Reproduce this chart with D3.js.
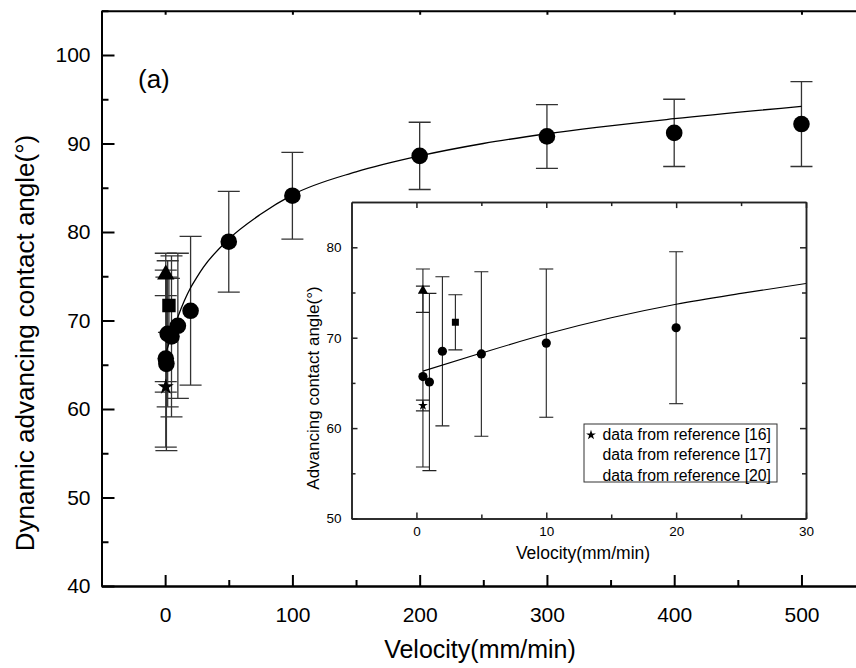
<!DOCTYPE html>
<html><head><meta charset="utf-8">
<script src="https://cdn.jsdelivr.net/npm/d3@7/dist/d3.min.js"></script>
<style>
body{margin:0;background:#fff}
svg{display:block}
text{font-family:Arial,"Liberation Sans",Helvetica,sans-serif;fill:#000}
</style>
</head><body>
<svg id="chart" width="856" height="668"></svg>
<script>
// ---- data ----
const circleVel = [0.5, 1, 2, 5, 10, 20, 50, 100, 200, 300, 400, 500];
const circleAngle = [65.7, 65.1, 68.5, 68.2, 69.4, 71.1, 78.9, 84.1, 88.6, 90.8, 91.2, 92.2];
const circleErr = [10.0, 9.8, 8.25, 9.1, 8.2, 8.4, 5.7, 4.9, 3.8, 3.6, 3.8, 4.8];

const ref16Vel = [0.5], ref16Angle = [62.5], ref16Err = [0.6];   // star
const ref17Vel = [0.5], ref17Angle = [75.2], ref17Err = [2.4];   // triangle
const ref20Vel = [3],   ref20Angle = [71.7], ref20Err = [3.05];  // square

const fitVel = [0.5, 5, 10, 15, 20, 25, 30, 50, 75, 100, 150, 200, 250, 300, 400, 500];
const fitAngle = [66.3, 68.3, 70.4, 72.2, 73.7, 74.9, 76.0, 79.2, 82.0, 84.2, 86.8, 88.6, 90.0, 91.1, 92.8, 94.2];

const mainXTicks = [0, 100, 200, 300, 400, 500];
const mainXMinor = [50, 150, 250, 350, 450, 550];
const mainYTicks = [40, 50, 60, 70, 80, 90, 100];
const mainYMinor = [45, 55, 65, 75, 85, 95, 105];
const insetXTicks = [0, 10, 20, 30];
const insetXMinor = [5, 15, 25];
const insetYTicks = [50, 60, 70, 80];
const insetYMinor = [55, 65, 75];

const legendLabels = ["data from reference [16]", "data from reference [17]", "data from reference [20]"];

// ---- chart ----
const svg = d3.select("#chart");
svg.append("rect").attr("width", 856).attr("height", 668).attr("fill", "#fff");

const xM = d3.scaleLinear().domain([-50, 550]).range([101.5, 865.1]);
const yM = d3.scaleLinear().domain([40, 105]).range([586, 10.75]);

const xI = d3.scaleLinear().domain([-5, 30]).range([351.5, 806]);
const yI = d3.scaleLinear().domain([50, 85]).range([518.5, 202.1]);

function records(v, a, e) { return v.map((d, i) => ({v: d, a: a[i], e: e[i]})); }
const circles = records(circleVel, circleAngle, circleErr);
const stars = records(ref16Vel, ref16Angle, ref16Err);
const tris = records(ref17Vel, ref17Angle, ref17Err);
const squares = records(ref20Vel, ref20Angle, ref20Err);
const fit = fitVel.map((d, i) => ({v: d, a: fitAngle[i]}));

// clip paths
const defs = svg.append("defs");
defs.append("clipPath").attr("id", "clipMain").append("rect")
  .attr("x", 101.5).attr("y", 10.75).attr("width", 860).attr("height", 575.25);
defs.append("clipPath").attr("id", "clipInset").append("rect")
  .attr("x", xI(-5)).attr("y", yI(85)).attr("width", xI(30) - xI(-5)).attr("height", yI(50) - yI(85));

function errorBars(g, data, x, y, cap, color, sw) {
  const eb = g.append("g").attr("stroke", color).attr("stroke-width", sw).attr("fill", "none");
  data.forEach(d => {
    const cx = x(d.v), y1 = y(d.a + d.e), y2 = y(d.a - d.e);
    eb.append("line").attr("x1", cx).attr("x2", cx).attr("y1", y1).attr("y2", y2);
    eb.append("line").attr("x1", cx - cap).attr("x2", cx + cap).attr("y1", y1).attr("y2", y1);
    eb.append("line").attr("x1", cx - cap).attr("x2", cx + cap).attr("y1", y2).attr("y2", y2);
  });
}

// ===== MAIN PLOT =====
const gMain = svg.append("g").attr("clip-path", "url(#clipMain)");
const allErr = circles.concat(tris, squares, stars);
errorBars(gMain, allErr, xM, yM, 11, "#333", 1.3);

gMain.append("path").datum(fit)
  .attr("fill", "none").attr("stroke", "#000").attr("stroke-width", 1.3)
  .attr("d", d3.line().x(d => xM(d.v)).y(d => yM(d.a)).curve(d3.curveMonotoneX));

gMain.selectAll("circle.m").data(circles).join("circle")
  .attr("cx", d => xM(d.v)).attr("cy", d => yM(d.a)).attr("r", 8.3).attr("fill", "#000");
gMain.selectAll("path.tri").data(tris).join("path")
  .attr("transform", d => `translate(${xM(d.v)},${yM(d.a)})`)
  .attr("d", d3.symbol(d3.symbolTriangle, 130)).attr("fill", "#000");
gMain.selectAll("path.sq").data(squares).join("path")
  .attr("transform", d => `translate(${xM(d.v)},${yM(d.a)})`)
  .attr("d", d3.symbol(d3.symbolSquare, 180)).attr("fill", "#000");
gMain.selectAll("path.st").data(stars).join("path")
  .attr("transform", d => `translate(${xM(d.v)},${yM(d.a)})`)
  .attr("d", d3.symbol(d3.symbolStar, 80)).attr("fill", "#000");

// main axes
const axMainLeft = svg.append("g").attr("transform", `translate(${xM(-50)},0)`)
  .call(d3.axisLeft(yM).tickValues(mainYTicks).tickSize(-13).tickSizeOuter(0).tickPadding(11).tickFormat(d3.format("d")));
svg.append("g").attr("transform", `translate(${xM(-50)},0)`)
  .call(d3.axisLeft(yM).tickValues(mainYMinor).tickSize(-7).tickSizeOuter(0).tickFormat(""));
const axMainBottom = svg.append("g").attr("transform", `translate(0,${yM(40)})`)
  .call(d3.axisBottom(xM).tickValues(mainXTicks).tickSize(-11).tickSizeOuter(0).tickPadding(21).tickFormat(d3.format("d")));
svg.append("g").attr("transform", `translate(0,${yM(40)})`)
  .call(d3.axisBottom(xM).tickValues(mainXMinor).tickSize(-6).tickSizeOuter(0).tickFormat(""));
svg.append("g").attr("transform", `translate(0,${yM(105)})`)
  .call(d3.axisTop(xM).tickValues(mainXTicks).tickSize(-4).tickSizeOuter(0).tickFormat(""));

axMainLeft.selectAll("text").attr("font-size", 21);
axMainBottom.selectAll("text").attr("font-size", 21);
svg.selectAll(".domain, .tick line").attr("stroke", "#000").attr("stroke-width", 2);

// main labels
svg.append("text").attr("x", 138).attr("y", 88).attr("font-size", 26).text("(a)");
svg.append("text").attr("x", 480).attr("y", 658).attr("text-anchor", "middle").attr("font-size", 25).text("Velocity(mm/min)");
svg.append("text").attr("transform", "translate(34,343) rotate(-90)").attr("text-anchor", "middle")
  .attr("font-size", 26).text("Dynamic advancing contact angle(°)");

// ===== INSET =====
svg.append("rect").attr("x", xI(-5)).attr("y", yI(85)).attr("width", xI(30) - xI(-5)).attr("height", yI(50) - yI(85))
  .attr("fill", "#fff");

const gIn = svg.append("g").attr("clip-path", "url(#clipInset)");
errorBars(gIn, allErr, xI, yI, 7, "#222", 1.1);
gIn.append("path").datum(fit.filter(d => d.v <= 50))
  .attr("fill", "none").attr("stroke", "#000").attr("stroke-width", 1.1)
  .attr("d", d3.line().x(d => xI(d.v)).y(d => yI(d.a)).curve(d3.curveMonotoneX));
gIn.selectAll("circle.i").data(circles).join("circle")
  .attr("cx", d => xI(d.v)).attr("cy", d => yI(d.a)).attr("r", 4.6).attr("fill", "#000");
gIn.selectAll("path.tri").data(tris).join("path")
  .attr("transform", d => `translate(${xI(d.v)},${yI(d.a)})`)
  .attr("d", d3.symbol(d3.symbolTriangle, 45)).attr("fill", "#000");
gIn.selectAll("path.sq").data(squares).join("path")
  .attr("transform", d => `translate(${xI(d.v)},${yI(d.a)})`)
  .attr("d", d3.symbol(d3.symbolSquare, 49)).attr("fill", "#000");
gIn.selectAll("path.st").data(stars).join("path")
  .attr("transform", d => `translate(${xI(d.v)},${yI(d.a)})`)
  .attr("d", d3.symbol(d3.symbolStar, 30)).attr("fill", "#000");

const insetAxes = svg.append("g").attr("class", "inset");
const aL = insetAxes.append("g").attr("transform", `translate(${xI(-5)},0)`)
  .call(d3.axisLeft(yI).tickValues(insetYTicks).tickSize(-6).tickSizeOuter(0).tickPadding(10).tickFormat(d3.format("d")));
insetAxes.append("g").attr("transform", `translate(${xI(-5)},0)`)
  .call(d3.axisLeft(yI).tickValues(insetYMinor).tickSize(-4).tickSizeOuter(0).tickFormat(""));
insetAxes.append("g").attr("transform", `translate(${xI(30)},0)`)
  .call(d3.axisRight(yI).tickValues(insetYTicks).tickSize(-6).tickSizeOuter(0).tickFormat(""));
insetAxes.append("g").attr("transform", `translate(${xI(30)},0)`)
  .call(d3.axisRight(yI).tickValues(insetYMinor).tickSize(-4).tickSizeOuter(0).tickFormat(""));
const aB = insetAxes.append("g").attr("transform", `translate(0,${yI(50)})`)
  .call(d3.axisBottom(xI).tickValues(insetXTicks).tickSize(-6).tickSizeOuter(0).tickPadding(8).tickFormat(d3.format("d")));
insetAxes.append("g").attr("transform", `translate(0,${yI(50)})`)
  .call(d3.axisBottom(xI).tickValues(insetXMinor).tickSize(-4).tickSizeOuter(0).tickFormat(""));
insetAxes.append("g").attr("transform", `translate(0,${yI(85)})`)
  .call(d3.axisTop(xI).tickValues(insetXTicks).tickSize(-6).tickSizeOuter(0).tickFormat(""));
insetAxes.append("g").attr("transform", `translate(0,${yI(85)})`)
  .call(d3.axisTop(xI).tickValues(insetXMinor).tickSize(-4).tickSizeOuter(0).tickFormat(""));
insetAxes.selectAll(".domain, .tick line").attr("stroke", "#222").attr("stroke-width", 1.5);
aL.selectAll("text").attr("font-size", 13.5);
aB.selectAll("text").attr("font-size", 13.5);

svg.append("text").attr("x", 583).attr("y", 559).attr("text-anchor", "middle").attr("font-size", 17.5).text("Velocity(mm/min)");
svg.append("text").attr("transform", "translate(319,388) rotate(-90)").attr("text-anchor", "middle")
  .attr("font-size", 17).text("Advancing contact angle(°)");

// legend
const lg = svg.append("g");
lg.append("rect").attr("x", 584).attr("y", 424).attr("width", 193).attr("height", 58)
  .attr("fill", "#fff").attr("stroke", "#333").attr("stroke-width", 1);
lg.append("path").attr("transform", "translate(591,435)").attr("d", d3.symbol(d3.symbolStar, 30)).attr("fill", "#000");
lg.selectAll("text").data(legendLabels).join("text")
  .attr("x", 771).attr("y", (d, i) => 440 + i * 20.3).attr("text-anchor", "end").attr("font-size", 15.8)
  .text(d => d);
</script>
</body></html>
